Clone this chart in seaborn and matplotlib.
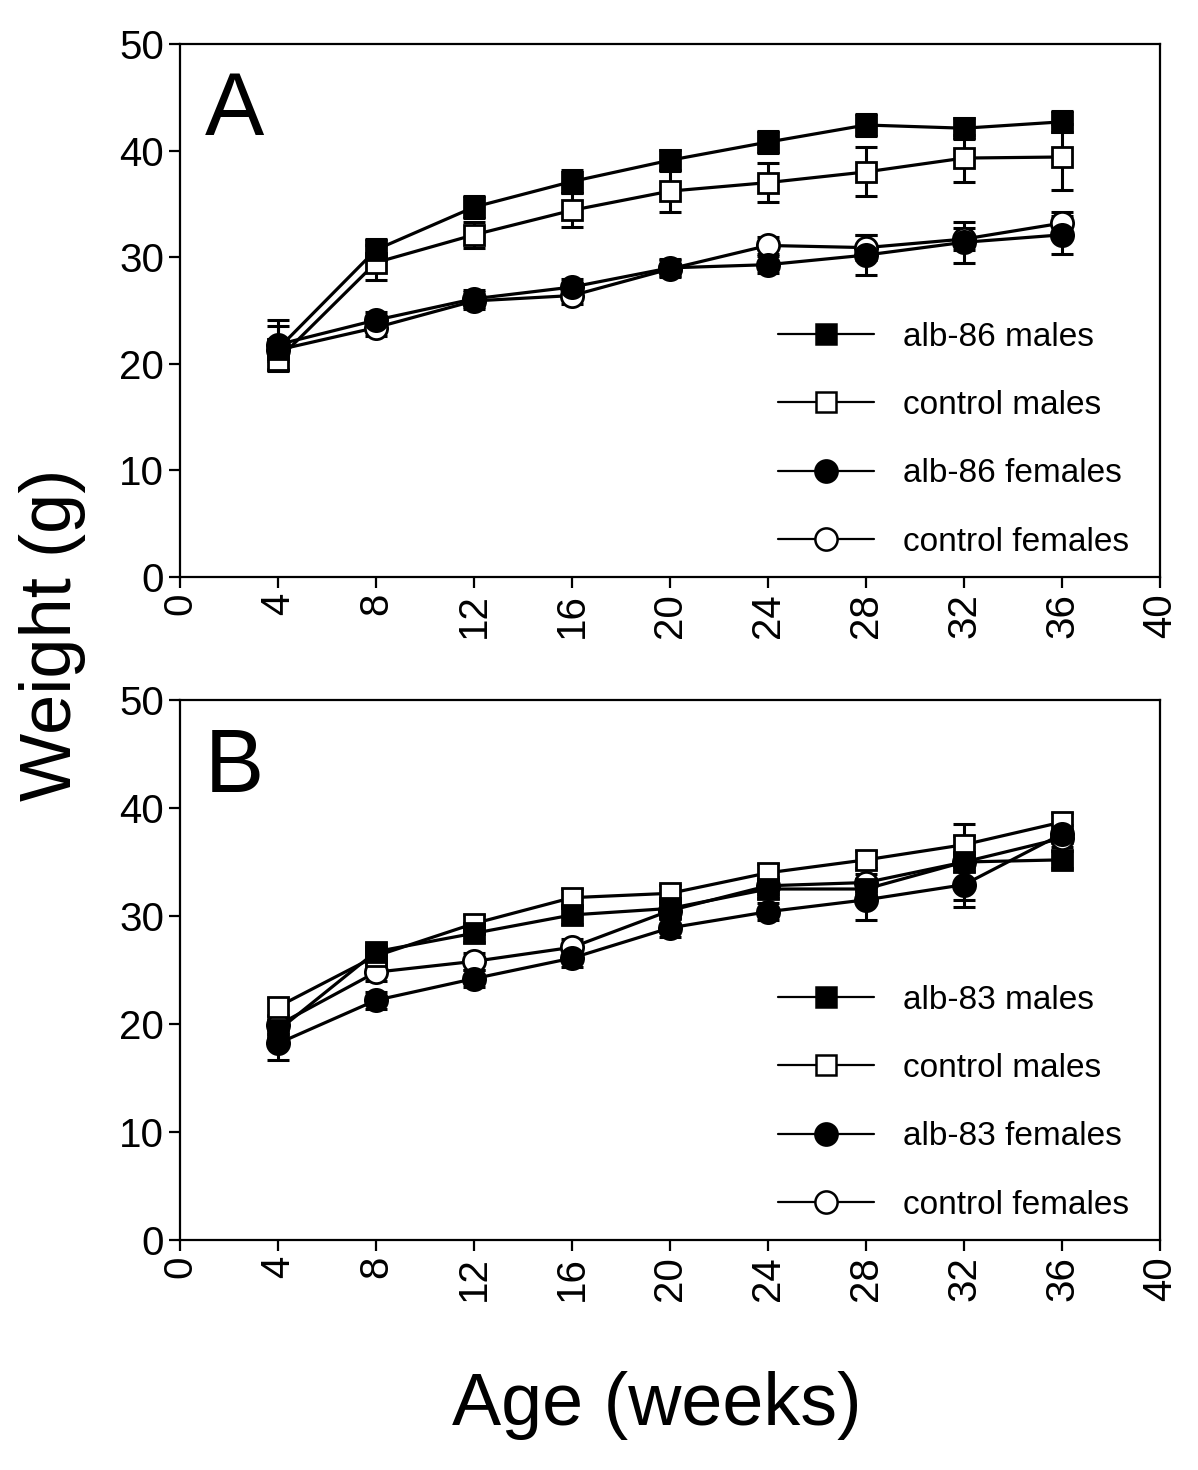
import numpy as np
import pandas as pd
import matplotlib
matplotlib.use("Agg")
import matplotlib.pyplot as plt
from matplotlib.lines import Line2D
import seaborn as sns

# --- data ---
weeks = [4, 8, 12, 16, 20, 24, 28, 32, 36]

# panel A
a_tg_males = [21.4, 30.7, 34.7, 37.1, 39.1, 40.8, 42.4, 42.1, 42.7]
a_ctrl_males = [20.4, 29.5, 32.1, 34.4, 36.2, 37.0, 38.0, 39.3, 39.4]
a_tg_females = [21.8, 24.1, 26.1, 27.2, 29.0, 29.3, 30.2, 31.4, 32.1]
a_ctrl_females = [21.3, 23.4, 25.9, 26.4, 28.9, 31.1, 30.9, 31.7, 33.2]
a_tg_males_err = [2.1, 1.0, 1.0, 1.1, 1.0, 1.0, 1.0, 1.0, 1.0]
a_ctrl_males_err = [1.0, 1.6, 1.2, 1.6, 2.0, 1.8, 2.3, 2.2, 3.1]
a_tg_females_err = [2.3, 0.8, 0.8, 0.8, 0.8, 0.8, 1.9, 1.9, 1.8]
a_ctrl_females_err = [1.0, 0.8, 0.8, 0.8, 0.8, 0.8, 1.2, 1.0, 1.0]

# panel B
b_tg_males = [19.4, 26.7, 28.4, 30.1, 30.7, 32.5, 32.5, 35.0, 35.2]
b_ctrl_males = [21.6, 26.3, 29.3, 31.7, 32.1, 34.0, 35.2, 36.6, 38.7]
b_tg_females = [18.2, 22.2, 24.2, 26.1, 28.9, 30.4, 31.5, 32.9, 37.6]
b_ctrl_females = [19.9, 24.8, 25.8, 27.1, 30.5, 32.8, 33.1, 35.0, 37.2]
b_tg_males_err = [1.0, 0.8, 0.8, 0.8, 0.8, 0.8, 0.8, 3.5, 0.8]
b_ctrl_males_err = [0.8, 0.8, 0.8, 0.8, 0.8, 0.8, 0.8, 0.8, 0.8]
b_tg_females_err = [1.5, 0.8, 0.8, 0.8, 0.8, 0.8, 1.9, 2.1, 0.8]
b_ctrl_females_err = [0.8, 0.8, 0.8, 0.8, 0.8, 0.8, 0.8, 0.8, 0.8]

x_ticks = [0, 4, 8, 12, 16, 20, 24, 28, 32, 36, 40]
y_ticks = [0, 10, 20, 30, 40, 50]

# marker / fill per series (legend order)
STYLES = [("s", "black"), ("s", "white"), ("o", "black"), ("o", "white")]
# open symbols go underneath the filled ones
DRAW_ORDER = [3, 1, 2, 0]

sns.set_style("ticks")
plt.rcParams["font.family"] = ["Liberation Sans", "DejaVu Sans"]
for key in ["text.color", "axes.labelcolor", "xtick.color", "ytick.color",
            "axes.edgecolor"]:
    plt.rcParams[key] = "black"


def msize(mk):
    return 15 if mk == "s" else 16


def draw_panel(ax, series, errs, labels, letter):
    for i in DRAW_ORDER:
        mk, fc = STYLES[i]
        ax.errorbar(weeks, series[i], yerr=errs[i], fmt="none", ecolor="black",
                    elinewidth=2.2, capsize=8, capthick=2.2, zorder=1)
        df = pd.DataFrame({"week": weeks, "weight": series[i]})
        sns.lineplot(data=df, x="week", y="weight", ax=ax, color="black",
                     linewidth=2.3, marker=mk, markersize=msize(mk),
                     markerfacecolor=fc, markeredgecolor="black",
                     markeredgewidth=2.0, zorder=3)

    ax.set_xlim(0, 40)
    ax.set_ylim(0, 50)
    ax.set_xticks(x_ticks)
    ax.set_yticks(y_ticks)
    ax.set_xticklabels([str(t) for t in x_ticks], rotation=90)
    ax.tick_params(labelsize=29, width=1.6, length=8, direction="out",
                   colors="black")
    for sp in ax.spines.values():
        sp.set_linewidth(1.6)
        sp.set_visible(True)
    ax.set_xlabel("")
    ax.set_ylabel("")

    ax.text(0.025, 0.829, letter, transform=ax.transAxes, fontsize=64,
            va="baseline", ha="left")

    handles = [Line2D([0], [0], color="black", linewidth=1.6, marker=mk,
                      markersize=msize(mk), markerfacecolor=fc,
                      markeredgecolor="black", markeredgewidth=1.8)
               for mk, fc in STYLES]
    ax.legend(handles, labels, loc="lower left", bbox_to_anchor=(0.61, 0.036),
              frameon=False, fontsize=24, handlelength=2.9, handletextpad=0.87,
              labelspacing=1.12, borderpad=0, borderaxespad=0)


fig = plt.figure(figsize=(11.98, 14.70), dpi=100)
ax_a = fig.add_axes([180 / 1198, 1 - 577 / 1470, 980 / 1198, 533 / 1470])
ax_b = fig.add_axes([180 / 1198, 1 - 1240 / 1470, 980 / 1198, 540 / 1470])

draw_panel(ax_a,
           [a_tg_males, a_ctrl_males, a_tg_females, a_ctrl_females],
           [a_tg_males_err, a_ctrl_males_err, a_tg_females_err, a_ctrl_females_err],
           ["alb-86 males", "control males", "alb-86 females", "control females"],
           "A")
draw_panel(ax_b,
           [b_tg_males, b_ctrl_males, b_tg_females, b_ctrl_females],
           [b_tg_males_err, b_ctrl_males_err, b_tg_females_err, b_ctrl_females_err],
           ["alb-83 males", "control males", "alb-83 females", "control females"],
           "B")

fig.text(52 / 1198, 1 - 635 / 1470, "Weight (g)", rotation=90, fontsize=52,
         ha="center", va="center")
fig.text(657 / 1198, 1 - 1405 / 1470, "Age (weeks)", fontsize=53,
         ha="center", va="center")

fig.savefig("out.png", dpi=100)
